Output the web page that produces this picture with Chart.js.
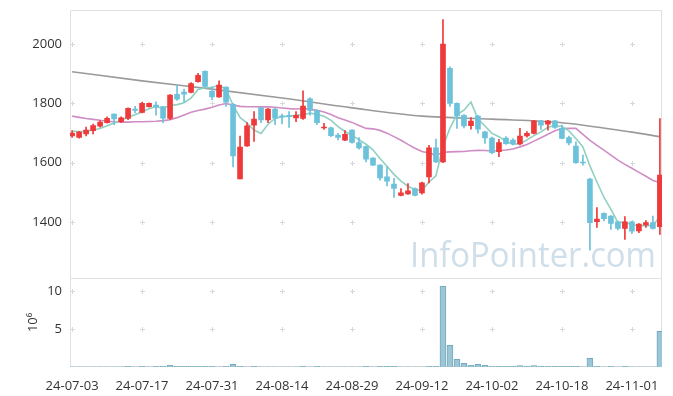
<!DOCTYPE html>
<html><head><meta charset="utf-8">
<script src="https://cdn.jsdelivr.net/npm/chart.js@4.4.1/dist/chart.umd.min.js"></script>
<style>html,body{margin:0;padding:0;background:#fff;}#wrap{width:673px;height:396px;position:relative;}canvas{display:block;}</style>
</head><body><div id="wrap"><canvas id="c" width="673" height="396" style="width:673px;height:396px"></canvas></div>
<script>
const dates = ['24-07-03','24-07-04','24-07-05','24-07-08','24-07-09','24-07-10','24-07-11','24-07-12','24-07-15','24-07-16',
'24-07-17','24-07-18','24-07-19','24-07-22','24-07-23','24-07-24','24-07-25','24-07-26','24-07-29','24-07-30',
'24-07-31','24-08-01','24-08-02','24-08-05','24-08-06','24-08-07','24-08-08','24-08-09','24-08-12','24-08-13',
'24-08-14','24-08-16','24-08-19','24-08-20','24-08-21','24-08-22','24-08-23','24-08-26','24-08-27','24-08-28',
'24-08-29','24-08-30','24-09-02','24-09-03','24-09-04','24-09-05','24-09-06','24-09-09','24-09-10','24-09-11',
'24-09-12','24-09-13','24-09-19','24-09-20','24-09-23','24-09-24','24-09-25','24-09-26','24-09-27','24-09-30',
'24-10-02','24-10-04','24-10-07','24-10-08','24-10-10','24-10-11','24-10-14','24-10-15','24-10-16','24-10-17',
'24-10-18','24-10-21','24-10-22','24-10-23','24-10-24','24-10-25','24-10-28','24-10-29','24-10-30','24-10-31',
'24-11-01','24-11-04','24-11-05','24-11-06','24-11-07'];
const opens = [1690,1685,1697,1708,1723,1735,1764,1738,1749,1781,1770,1789,1794,1789,1749,1831,1838,1837,1873,1908,
1841,1822,1855,1797,1545,1657,1727,1785,1744,1781,1758,1760,1751,1749,1815,1776,1717,1718,1693,1676,
1710,1668,1654,1616,1592,1552,1528,1490,1495,1513,1498,1552,1650,1603,1918,1800,1760,1725,1757,1704,
1683,1637,1683,1676,1663,1690,1699,1741,1730,1741,1716,1685,1656,1601,1545,1401,1429,1420,1401,1378,
1401,1370,1390,1398,1384];
const highs = [1708,1706,1720,1730,1742,1755,1765,1755,1785,1790,1804,1802,1805,1790,1830,1862,1848,1870,1901,1910,
1856,1876,1856,1800,1690,1735,1772,1787,1783,1783,1764,1772,1772,1842,1820,1778,1733,1720,1699,1708,
1712,1685,1656,1617,1594,1586,1547,1513,1530,1515,1535,1659,1680,2083,1923,1802,1762,1752,1760,1706,
1686,1679,1688,1681,1716,1705,1743,1743,1743,1743,1727,1690,1670,1626,1547,1449,1431,1422,1403,1418,
1403,1395,1405,1420,1749];
const lows = [1685,1683,1690,1697,1720,1733,1728,1735,1745,1768,1768,1787,1760,1735,1745,1810,1805,1835,1872,1855,
1813,1820,1790,1586,1545,1655,1672,1735,1735,1728,1731,1719,1738,1746,1760,1728,1712,1688,1677,1674,
1666,1646,1603,1590,1541,1522,1483,1488,1493,1488,1494,1532,1600,1600,1790,1716,1717,1713,1700,1665,
1630,1620,1662,1660,1660,1686,1697,1712,1710,1716,1680,1660,1598,1592,1305,1382,1404,1375,1373,1341,
1361,1364,1382,1376,1358];
const closes = [1700,1703,1710,1725,1737,1750,1748,1751,1783,1776,1800,1800,1788,1750,1828,1814,1831,1867,1895,1857,
1822,1862,1804,1623,1653,1724,1747,1744,1781,1750,1754,1755,1760,1791,1776,1735,1720,1691,1685,1696,
1668,1650,1612,1592,1549,1538,1513,1498,1505,1490,1532,1650,1603,2000,1800,1758,1724,1740,1713,1684,
1634,1668,1664,1663,1690,1699,1741,1727,1741,1719,1682,1667,1600,1599,1398,1410,1411,1395,1378,1401,
1369,1393,1398,1378,1558];
const ma5 = [1706,1705,1706,1710,1715,1725,1734,1742.2,1753.8,1761.6,1771.6,1782,1789.4,1782.8,1793.2,1796,1802.2,1818,1847,1852.8,
1854.4,1860.6,1848,1793.6,1752.8,1733.2,1710.2,1698.2,1729.8,1749.2,1755.2,1756.8,1760,1762,1767.2,1763.4,1756.4,1742.6,1721.4,1705.4,
1692,1678,1662.2,1643.6,1614.2,1588.2,1560.8,1538,1520.6,1508.8,1507.6,1535,1556,1655,1717,1762.2,1777,1804.4,1747,1723.8,
1699,1687.8,1672.6,1662.6,1663.8,1676.8,1691.4,1704,1719.6,1725.4,1722,1707.2,1681.8,1653.4,1589.2,1534.8,1483.6,1442.6,1398.4,1399,
1390.8,1387.2,1387.8,1387.8,1419.2];
const ma20 = [1757,1753,1749,1746,1743,1740,1738,1737,1737,1738,1738,1739,1740,1742,1745,1752,1761,1770,1776,1780.7,
1786.8,1794.7,1799.4,1794.3,1790.1,1788.8,1788.8,1788.4,1788.3,1787,1784.7,1782.5,1781.1,1783.1,1780.5,1776.6,1771,1762.2,1751.7,1743.7,
1736,1725.4,1715.8,1714.2,1709,1699.7,1688,1675.7,1661.9,1648.9,1637.8,1632.6,1624.7,1635.2,1636.4,1637.5,1637.7,1640.2,1641.6,1641,
1639.3,1640.2,1642.8,1646.3,1653.4,1661.4,1672.8,1684.3,1696.1,1707.5,1715,1715.9,1715.7,1695.7,1675.6,1658.2,1642.5,1625.3,1608.5,1594.4,
1581.1,1567.4,1554.1,1539.8,1533.2];
const ma120Idx = [0,10,20,30,40,50,60,70,80,84];
const ma120Val = [1907,1876,1848,1818,1785,1757,1747,1735,1703,1688];
const volumes = [0.01,0.01,0.01,0.01,0.01,0.01,0.01,0.01,0.1,0.01,
0.1,0.01,0.1,0.1,0.22,0.1,0.1,0.1,0.1,0.1,
0.1,0.01,0.1,0.35,0.1,0.01,0.1,0.01,0.01,0.01,
0.01,0.01,0.01,0.1,0.01,0.1,0.01,0.01,0.01,0.01,
0.01,0.01,0.1,0.01,0.1,0.1,0.1,0.01,0.01,0.01,
0.01,0.1,0.1,10.66,2.85,1.01,0.49,0.22,0.35,0.22,
0.1,0.1,0.1,0.1,0.2,0.1,0.2,0.1,0.1,0.1,
0.1,0.1,0.1,0.01,1.14,0.1,0.01,0.1,0.01,0.1,
0.01,0.01,0.01,0.01,4.7];
const tickIdx = [0,10,20,30,40,50,60,70,80];
const priceTicks = [1400,1600,1800,2000];
const volTicks = [5,10];

const FONT = '"Open Sans", "Noto Sans", sans-serif';
const UP = '#ee3a3a', DOWN = '#6cc2da';
const candleCol = opens.map((o, i) => closes[i] >= o ? UP : DOWN);

const deco = {
  id: 'deco',
  beforeDatasetsDraw(chart) {
    const {ctx, scales} = chart;
    const x = scales.x, y = scales.y, yv = scales.yVol;
    ctx.save();
    ctx.font = '35px ' + FONT;
    ctx.fillStyle = '#cfdee8';
    ctx.textBaseline = 'alphabetic';
    const txt = 'InfoPointer.com';
    const w = ctx.measureText(txt).width;
    ctx.translate(410, 267);
    ctx.scale(246 / w, 1);
    ctx.fillText(txt, 0, 0);
    ctx.restore();
    ctx.save();
    ctx.strokeStyle = '#d8d8d8';
    ctx.lineWidth = 1;
    ctx.beginPath();
    const cross = (px, py) => {
      px = Math.round(px) + 0.5; py = Math.round(py) + 0.5;
      ctx.moveTo(px - 2.5, py); ctx.lineTo(px + 2.5, py);
      ctx.moveTo(px, py - 2.5); ctx.lineTo(px, py + 2.5);
    };
    for (const t of tickIdx) {
      const px = x.getPixelForValue(t);
      for (const v of priceTicks) cross(px, y.getPixelForValue(v));
      for (const v of volTicks) cross(px, yv.getPixelForValue(v));
    }
    ctx.stroke();
    ctx.strokeStyle = '#e0e0e0';
    ctx.beginPath();
    const L = Math.round(x.left) + 0.5, R = Math.round(x.right) - 0.5;
    const T = Math.round(y.top) + 0.5, M = Math.round(y.bottom) + 0.5, B = Math.round(yv.bottom) - 0.5;
    ctx.rect(L, T, R - L, M - T);
    ctx.rect(L, M, R - L, B - M);
    ctx.stroke();
    ctx.restore();
    ctx.save();
    ctx.fillStyle = '#333';
    ctx.font = '13px ' + FONT;
    ctx.textAlign = 'center';
    ctx.textBaseline = 'middle';
    ctx.translate(33, (yv.top + yv.bottom) / 2);
    ctx.rotate(-Math.PI / 2);
    ctx.fillText('10\u2076', 0, 0);
    ctx.restore();
  }
};

const tickFont = {family: FONT, size: 13};
new Chart(document.getElementById('c'), {
  data: {
    datasets: [
      {type: 'bar', data: opens.map((o, i) => ({x: i, y: [o, closes[i]]})), backgroundColor: candleCol,
       barThickness: 5, minBarLength: 1, grouped: false, yAxisID: 'y', order: 1},
      {type: 'bar', data: lows.map((l, i) => ({x: i, y: [l, highs[i]]})), backgroundColor: candleCol,
       barThickness: 1, grouped: false, yAxisID: 'y', order: 2},
      {type: 'line', data: ma5.map((v, i) => ({x: i, y: v})), borderColor: '#8fd0c1', borderWidth: 1.6,
       pointRadius: 0, yAxisID: 'y', order: 3},
      {type: 'line', data: ma20.map((v, i) => ({x: i, y: v})), borderColor: '#cf8dc5', borderWidth: 1.6,
       pointRadius: 0, yAxisID: 'y', order: 4},
      {type: 'line', data: ma120Idx.map((d, i) => ({x: d, y: ma120Val[i]})), borderColor: '#9a9a9a', borderWidth: 1.6,
       pointRadius: 0, cubicInterpolationMode: 'monotone', yAxisID: 'y', order: 5},
      {type: 'bar', data: volumes.map((v, i) => ({x: i, y: v})), backgroundColor: '#9cc5d5', borderColor: '#74a9be',
       borderWidth: 1, barThickness: 6, grouped: false, yAxisID: 'yVol', order: 1}
    ]
  },
  options: {
    responsive: false,
    maintainAspectRatio: false,
    animation: false,
    devicePixelRatio: 1,
    layout: {padding: {top: 10, right: 11, left: 0, bottom: 0}},
    plugins: {legend: {display: false}, tooltip: {enabled: false}},
    scales: {
      x: {type: 'linear', min: -0.3, max: 84.3, offset: false,
          grid: {display: false, offset: false}, border: {display: false},
          afterBuildTicks: s => { s.ticks = tickIdx.map(v => ({value: v})); },
          ticks: {callback: v => dates[v], font: tickFont, color: '#333', maxRotation: 0, autoSkip: false, padding: 3},
          afterFit: s => { s.height = 29; }},
      y: {type: 'linear', position: 'left', stack: 'main', stackWeight: 3, weight: 1,
          min: 1212, max: 2115, grid: {display: false}, border: {display: false},
          afterBuildTicks: s => { s.ticks = priceTicks.map(v => ({value: v})); },
          ticks: {callback: v => String(v), autoSkip: false, font: tickFont, color: '#333', padding: 0},
          afterFit: s => { s.width = 70; }},
      yVol: {type: 'linear', position: 'left', stack: 'main', stackWeight: 1, weight: 0,
          min: 0, max: 11.74, grid: {display: false}, border: {display: false},
          afterBuildTicks: s => { s.ticks = volTicks.map(v => ({value: v})); },
          ticks: {callback: v => String(v), autoSkip: false, font: tickFont, color: '#333', padding: 0},
          afterFit: s => { s.width = 70; }}
    }
  },
  plugins: [deco]
});
</script>
</body></html>
